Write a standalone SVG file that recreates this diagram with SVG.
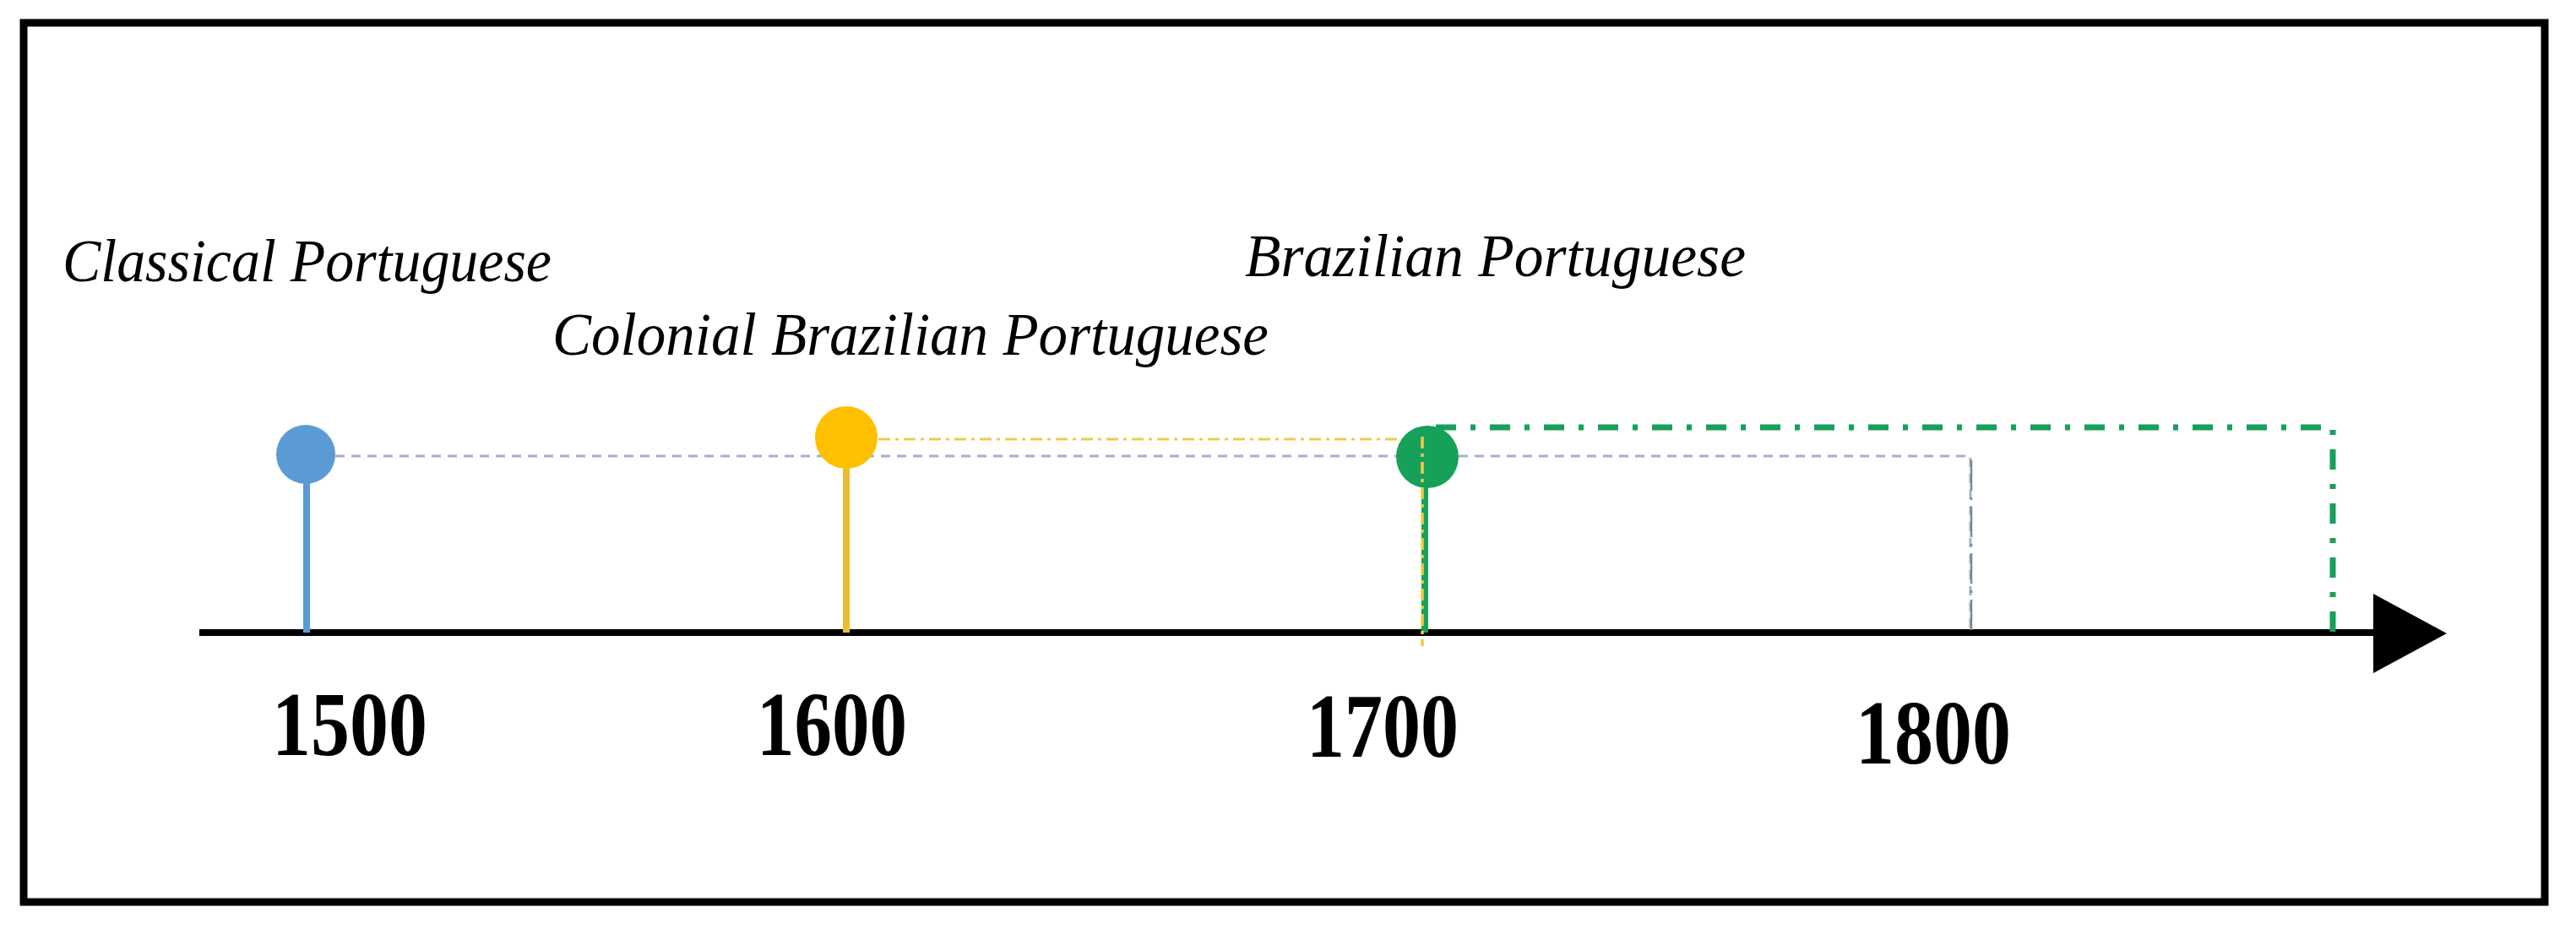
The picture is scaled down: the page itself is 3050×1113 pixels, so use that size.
<svg xmlns="http://www.w3.org/2000/svg" width="3050" height="1113" viewBox="0 0 3050 1113">
<style>
.lbl{font-family:"Liberation Serif","Times New Roman",serif;font-style:italic;font-size:72px;fill:#000}
.yr{font-family:"Liberation Serif","Times New Roman",serif;font-weight:bold;font-size:108px;fill:#000;text-anchor:middle}
.stem{stroke-width:8;fill:none}
</style>
<rect x="0" y="0" width="3050" height="1113" fill="#fff"/>
<rect x="28" y="27" width="2985" height="1041" fill="none" stroke="#000" stroke-width="9"/>
<g id="connectors">
  <line x1="236" y1="749" x2="2812" y2="749" stroke="#000" stroke-width="8"/>
  <polygon points="2810,703 2897,750 2810,797" fill="#000"/>
  <path d="M397,540 H2333 V749" fill="none" stroke="#A3B2C6" stroke-width="3" stroke-dasharray="11 8"/>
  <line x1="2334" y1="545" x2="2334" y2="749" stroke="#7A8796" stroke-width="2.5" stroke-dasharray="36 8 3 8"/>
  <line x1="1040" y1="520" x2="1655" y2="520" stroke="#F2C94C" stroke-width="3" stroke-dasharray="14 6 4 6"/>
  <path d="M1700,506 H2762 V749" fill="none" stroke="#17A05A" stroke-width="7" stroke-dasharray="24 17 6 17"/>
</g>
<g id="node-1500">
  <line class="stem" x1="363" y1="560" x2="363" y2="749" stroke="#5B9BD5"/>
  <circle cx="362" cy="538" r="35" fill="#5B9BD5"/>
  <text class="lbl" x="74" y="333" textLength="579" lengthAdjust="spacingAndGlyphs">Classical Portuguese</text>
  <text class="yr" x="414" y="894" textLength="184" lengthAdjust="spacingAndGlyphs">1500</text>
</g>
<g id="node-1600">
  <line class="stem" x1="1002" y1="540" x2="1002" y2="749" stroke="#EDBB33"/>
  <circle cx="1002" cy="518" r="37" fill="#FFC000"/>
  <text class="lbl" x="654" y="420" textLength="848" lengthAdjust="spacingAndGlyphs">Colonial Brazilian Portuguese</text>
  <text class="yr" x="985" y="894" textLength="178" lengthAdjust="spacingAndGlyphs">1600</text>
</g>
<g id="node-1700">
  <line class="stem" x1="1687" y1="560" x2="1687" y2="749" stroke="#17A05A"/>
  <circle cx="1690" cy="541" r="37" fill="#17A05A"/>
  <line x1="1684" y1="517" x2="1684" y2="765" stroke="#F2C94C" stroke-width="3.5" stroke-dasharray="14 6 4 6"/>
  <text class="lbl" x="1474" y="327" textLength="593" lengthAdjust="spacingAndGlyphs">Brazilian Portuguese</text>
  <text class="yr" x="1637" y="896" textLength="180" lengthAdjust="spacingAndGlyphs">1700</text>
</g>
<g id="node-1800">
  <text class="yr" x="2289" y="904" textLength="184" lengthAdjust="spacingAndGlyphs">1800</text>
</g>
</svg>
